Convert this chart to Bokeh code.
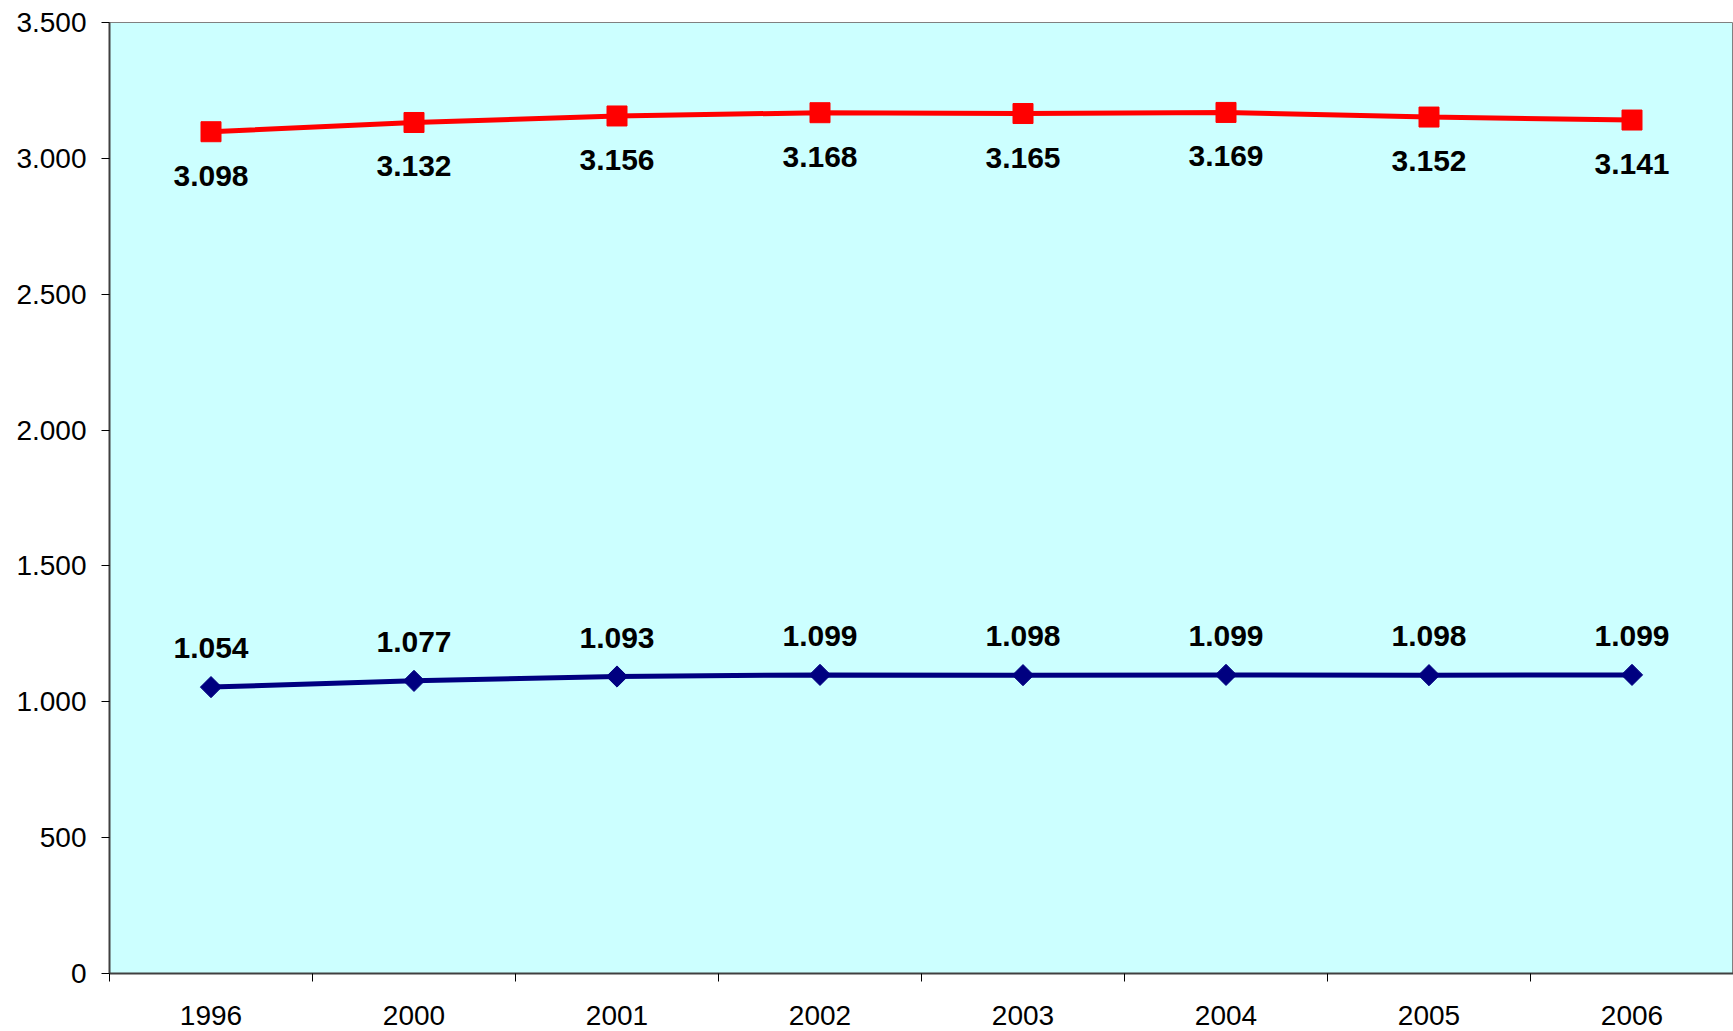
import math
from bokeh.plotting import figure
from bokeh.models import Range1d, FixedTicker, ColumnDataSource, LabelSet
from bokeh.core.properties import value
from bokeh.embed import file_html
from bokeh.resources import INLINE

years = ["1996", "2000", "2001", "2002", "2003", "2004", "2005", "2006"]
red_values = [3098, 3132, 3156, 3168, 3165, 3169, 3152, 3141]
blue_values = [1054, 1077, 1093, 1099, 1098, 1099, 1098, 1099]
y_ticks = [0, 500, 1000, 1500, 2000, 2500, 3000, 3500]


def fmt(v):
    return f"{v:,}".replace(",", ".")


xs = list(range(1, len(years) + 1))

p = figure(width=1733, height=1031, output_backend="svg", toolbar_location=None,
           x_range=Range1d(0.5, len(years) + 0.5), y_range=Range1d(0, 3500),
           min_border_left=109, min_border_right=0, min_border_top=22, min_border_bottom=58)

p.background_fill_color = "#CCFFFF"
p.border_fill_color = "white"
p.outline_line_color = "#808080"
p.outline_line_width = 1
p.xgrid.visible = False
p.ygrid.visible = False

font = "Liberation Sans"

# x axis: labels at category centres, ticks at boundaries (minor ticks)
p.xaxis.ticker = FixedTicker(ticks=xs, minor_ticks=[x + 0.5 for x in range(0, len(years) + 1)])
p.xaxis.major_label_overrides = {x: y for x, y in zip(xs, years)}
p.xaxis.major_tick_out = 0
p.xaxis.major_tick_in = 0
p.xaxis.minor_tick_out = 8
p.xaxis.minor_tick_in = 0
p.xaxis.minor_tick_line_color = "black"
p.xaxis.major_label_standoff = 24
p.xaxis.major_label_text_font = font
p.xaxis.major_label_text_font_size = "28px"
p.xaxis.major_label_text_color = "black"
p.xaxis.axis_line_color = "#404040"
p.xaxis.axis_line_width = 2

p.yaxis.ticker = FixedTicker(ticks=y_ticks, minor_ticks=[])
p.yaxis.major_label_overrides = {t: fmt(t) for t in y_ticks}
p.yaxis.major_tick_out = 8
p.yaxis.major_tick_in = 0
p.yaxis.major_tick_line_color = "black"
p.yaxis.major_label_standoff = 15
p.yaxis.major_label_text_font = font
p.yaxis.major_label_text_font_size = "28px"
p.yaxis.major_label_text_color = "black"
p.yaxis.axis_line_color = "#404040"
p.yaxis.axis_line_width = 2

red_src = ColumnDataSource(dict(x=xs, y=red_values, lab=[fmt(v) for v in red_values]))
blue_src = ColumnDataSource(dict(x=xs, y=blue_values, lab=[fmt(v) for v in blue_values]))

p.line("x", "y", source=red_src, line_color="#FF0000", line_width=5)
p.scatter("x", "y", source=red_src, marker="square", size=20,
          fill_color="#FF0000", line_color="#FF0000")

p.line("x", "y", source=blue_src, line_color="#000080", line_width=5)
p.scatter("x", "y", source=blue_src, marker="square", size=15, angle=math.pi / 4,
          fill_color="#000080", line_color="#000080")

p.add_layout(LabelSet(x="x", y="y", text="lab", source=red_src, y_offset=-44,
                      text_align="center", text_baseline="middle",
                      text_font=value(font), text_font_size=value("30px"),
                      text_font_style="bold", text_color="black"))
p.add_layout(LabelSet(x="x", y="y", text="lab", source=blue_src, y_offset=39,
                      text_align="center", text_baseline="middle",
                      text_font=value(font), text_font_size=value("30px"),
                      text_font_style="bold", text_color="black"))

open("out.html", "w").write(file_html(p, INLINE))
